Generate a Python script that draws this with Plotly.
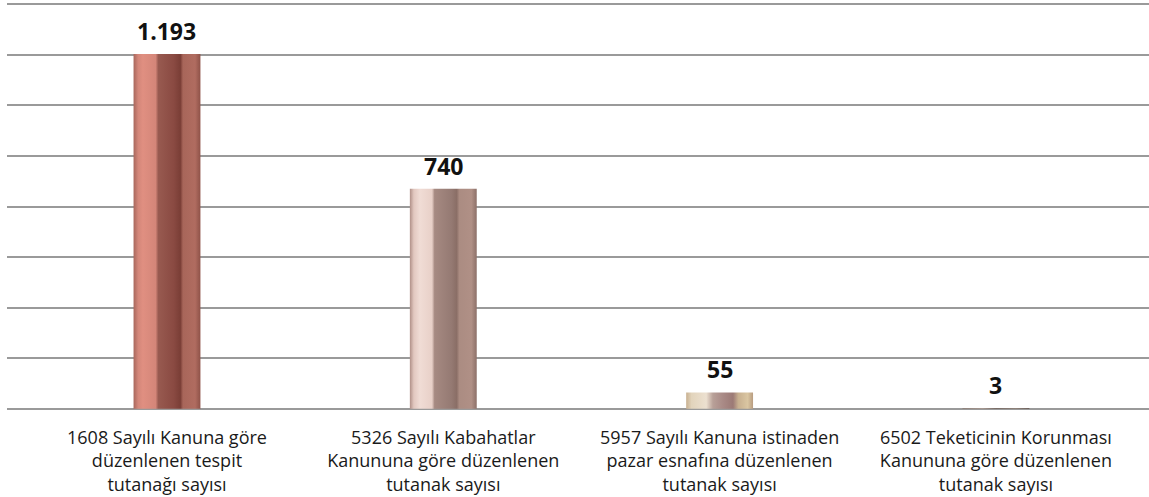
import plotly.graph_objects as go

# Kanun bazında düzenlenen tutanak sayıları
categories = [
    "1608 Sayılı Kanuna göre<br>düzenlenen tespit<br>tutanağı sayısı",
    "5326 Sayılı Kabahatlar<br>Kanununa göre düzenlenen<br>tutanak sayısı",
    "5957 Sayılı Kanuna istinaden<br>pazar esnafına düzenlenen<br>tutanak sayısı",
    "6502 Teketicinin Korunması<br>Kanununa göre düzenlenen<br>tutanak sayısı",
]
values = [1193, 740, 55, 3]

# metallic-looking horizontal gradients for each column
bar_gradients = [
    [[0.0, "#a8675c"], [0.07, "#d4877a"], [0.14, "#e08f81"], [0.33, "#d48679"],
     [0.37, "#985a50"], [0.6, "#8a4a42"], [0.7, "#7a3e36"], [0.74, "#a8665a"],
     [0.92, "#b06c60"], [1.0, "#8e5248"]],
    [[0.0, "#b09088"], [0.06, "#e2c8c0"], [0.15, "#f0dcd5"], [0.33, "#e8d0c8"],
     [0.37, "#a68a82"], [0.62, "#957a73"], [0.7, "#8a6e66"], [0.74, "#ab8c82"],
     [0.92, "#b09086"], [1.0, "#8c7068"]],
    [[0.0, "#c8b090"], [0.08, "#e2d4bc"], [0.3, "#ece0d0"], [0.4, "#b8a098"],
     [0.55, "#a98a86"], [0.7, "#9c7a76"], [0.78, "#c8b090"], [0.92, "#dac6a2"],
     [1.0, "#b89c80"]],
    [[0.0, "#8a7a72"], [0.3, "#a8968c"], [0.5, "#6e5e56"], [0.8, "#8a7a70"],
     [1.0, "#5e4e48"]],
]

half_width = 0.121
positions = list(range(len(values)))

fig = go.Figure()

for pos, val, grad in zip(positions, values, bar_gradients):
    xs = [pos - half_width, pos - half_width, pos + half_width, pos + half_width, pos - half_width]
    ys = [0, val, val, 0, 0]
    fig.add_trace(go.Scatter(
        x=xs, y=ys,
        mode="lines",
        line=dict(width=0, color="rgba(0,0,0,0)"),
        fill="toself",
        fillgradient=dict(type="horizontal", colorscale=grad),
        hoverinfo="skip",
        showlegend=False,
    ))

# value labels above the columns (Turkish thousands separator)
value_labels = [f"{v:,}".replace(",", ".") for v in values]
for pos, val, lab in zip(positions, values, value_labels):
    fig.add_annotation(
        x=pos, y=val, text=f"<b>{lab}</b>",
        showarrow=False, yanchor="bottom", yshift=5,
        font=dict(family="Open Sans", size=23, color="#111111"),
    )

fig.update_layout(
    width=1149, height=497,
    margin=dict(l=7, r=0, t=3, b=87),
    paper_bgcolor="white",
    plot_bgcolor="white",
    showlegend=False,
    xaxis=dict(
        range=[-0.579, 3.554],
        tickmode="array",
        tickvals=positions,
        ticktext=categories,
        showgrid=False,
        zeroline=False,
        showline=False,
        ticks="",
        tickfont=dict(family="Open Sans", size=18, color="#1a1a1a"),
        ticklabelstandoff=15,
        fixedrange=True,
    ),
    yaxis=dict(
        range=[-4, 1364],
        tickmode="linear",
        tick0=0,
        dtick=170,
        showgrid=True,
        gridcolor="#9a9a9a",
        gridwidth=1.5,
        zeroline=False,
        showline=False,
        showticklabels=False,
        ticks="",
        fixedrange=True,
    ),
)

fig.write_html("out.html")
